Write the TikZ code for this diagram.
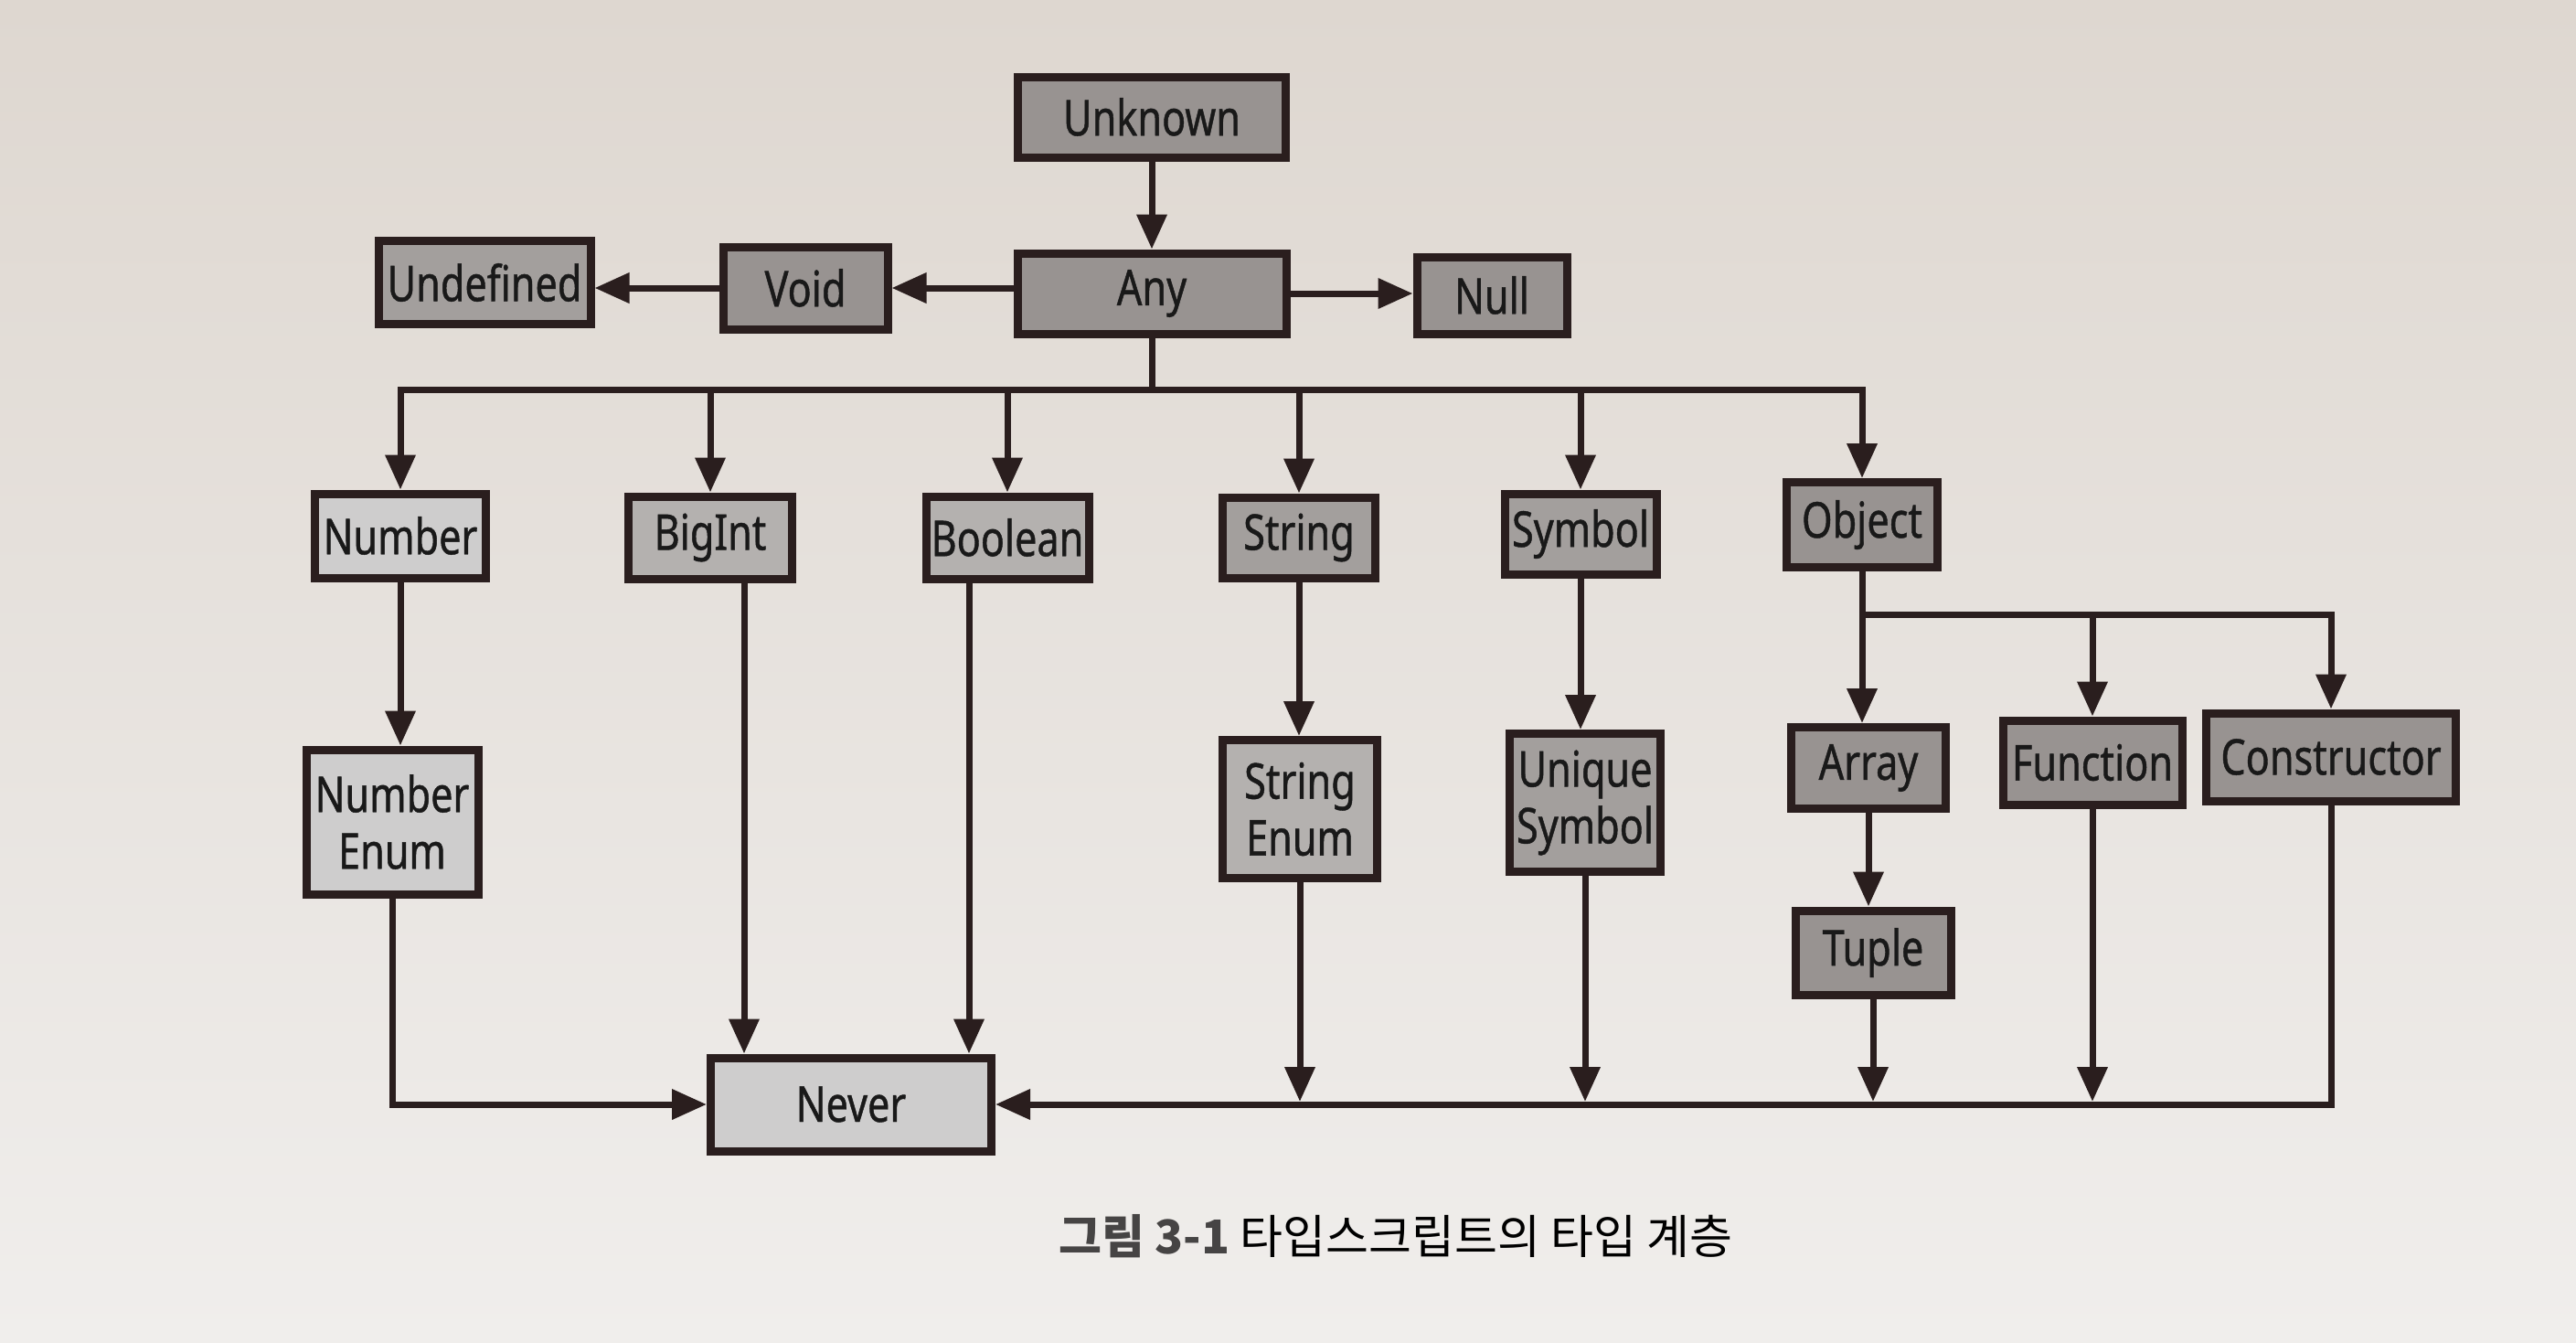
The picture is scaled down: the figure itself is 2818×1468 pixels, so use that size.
\documentclass[tikz,border=0pt]{standalone}
\usepackage{fontspec}
\setmainfont{Noto Sans}[FakeStretch=0.8, FakeBold=0.8]
\newfontfamily\cjk{Noto Sans CJK KR}
\usetikzlibrary{arrows.meta}
\definecolor{ink}{RGB}{42,30,30}
\definecolor{bgtop}{RGB}{222,215,208}
\definecolor{bgbot}{RGB}{240,238,236}
\definecolor{capgray}{RGB}{70,68,68}
\definecolor{gA}{RGB}{152,147,145}
\definecolor{gB}{RGB}{163,159,157}
\definecolor{gC}{RGB}{180,177,175}
\definecolor{gD}{RGB}{206,205,205}
\begin{document}
\begin{tikzpicture}[x=1pt,y=-1pt,
  box/.style={draw=ink, line width=9pt, text=black!90, inner sep=0pt, align=center,
    font=\fontsize{54}{62}\selectfont},
  conn/.style={draw=ink, line width=7pt},
  arr/.style={conn, -{Triangle[length=38pt,width=32pt]}},
  arrb/.style={arr, shorten >=3pt}]
\useasboundingbox (0,0) rectangle (2818,1468);
\shade[top color=bgtop, bottom color=bgbot] (0,0) rectangle (2818,1468);

% row 0 / 1
\node[box, fill=gA, minimum width=293pt, minimum height=88pt] (unknown) at (1260,128) {Unknown};
\node[box, fill=gA, minimum width=294pt, minimum height=88pt] (any) at (1260,321) {Any};
\node[box, fill=gA, minimum width=180pt, minimum height=90pt] (void) at (881,315) {Void};
\node[box, fill=gB, minimum width=232pt, minimum height=91pt] (undef) at (530,309) {Undefined};
\node[box, fill=gA, minimum width=164pt, minimum height=84pt] (null) at (1632,323) {Null};

% row 2
\node[box, fill=gD, minimum width=187pt, minimum height=92pt] (number) at (438,586) {Number};
\node[box, fill=gC, minimum width=179pt, minimum height=90pt] (bigint) at (777,588) {BigInt};
\node[box, fill=gC, minimum width=178pt, minimum height=90pt] (boolean) at (1102,588) {Boolean};
\node[box, fill=gB, minimum width=167pt, minimum height=88pt] (string) at (1421,588) {String};
\node[box, fill=gB, minimum width=166pt, minimum height=88pt] (symbol) at (1729,584) {Symbol};
\node[box, fill=gA, minimum width=165pt, minimum height=93pt] (object) at (2037,574) {Object};

% row 3
\node[box, fill=gD, minimum width=188pt, minimum height=158pt] (nenum) at (429,899) {Number\\Enum};
\node[box, fill=gC, minimum width=169pt, minimum height=151pt] (senum) at (1422,885) {String\\Enum};
\node[box, fill=gB, minimum width=165pt, minimum height=151pt] (usym) at (1734,878) {Unique\\Symbol};
\node[box, fill=gA, minimum width=169pt, minimum height=89pt] (array) at (2044,840) {Array};
\node[box, fill=gA, minimum width=196pt, minimum height=92pt] (function) at (2289,834) {Function};
\node[box, fill=gA, minimum width=273pt, minimum height=96pt] (constructor) at (2550,828) {Constructor};

% row 4
\node[box, fill=gA, minimum width=170pt, minimum height=92pt] (tuple) at (2049,1042) {Tuple};
\node[box, fill=gD, minimum width=307pt, minimum height=102pt] (never) at (931,1208) {Never};

% caption
\node[font=\cjk\fontsize{51}{56}\selectfont, text=black] (caption) at (1527,1352)
  {{\bfseries\color{capgray}그림 3-1} 타입스크립트의 타입 계층};

% top connectors
\draw[arr] (unknown) -- (any);
\draw[arr] (any.west |- void.east) -- (void.east);
\draw[arr] (void.west) -- (void.west -| undef.east);
\draw[arr] (any.east) -- (any.east -| null.west);

% Any bus
\coordinate (bus) at (1260,426);
\draw[arr] (any.south) -- (bus) -| (number.north);
\draw[arr] (bus) -| (object.north);
\draw[arr] (bigint.north |- bus) -- (bigint.north);
\draw[arr] (boolean.north |- bus) -- (boolean.north);
\draw[arr] (string.north |- bus) -- (string.north);
\draw[arr] (symbol.north |- bus) -- (symbol.north);

% Object bus
\coordinate (obus) at (2037,672);
\draw[arr] (object.south) -- (obus) -- (obus |- array.north);
\draw[arr] (obus) -| (function.north);
\draw[arr] (obus) -| (constructor.north);

% vertical children
\draw[arr] (number.south) -- (number.south |- nenum.north);
\draw[arr] (string.south) -- (string.south |- senum.north);
\draw[arr] (symbol.south) -- (symbol.south |- usym.north);
\draw[arr] (array.south) -- (array.south |- tuple.north);

% to Never
\draw[arr] (nenum.south) |- (never.west);
\draw[arr] ([xshift=37pt]bigint.south) -- ([xshift=37pt]bigint.south |- never.north);
\draw[arr] ([xshift=-42pt]boolean.south) -- ([xshift=-42pt]boolean.south |- never.north);
\draw[arr] (constructor.south) |- (never.east);
\draw[arrb] (senum.south) -- (senum.south |- never.east);
\draw[arrb] (usym.south) -- (usym.south |- never.east);
\draw[arrb] (tuple.south) -- (tuple.south |- never.east);
\draw[arrb] (function.south) -- (function.south |- never.east);
\end{tikzpicture}
\end{document}
